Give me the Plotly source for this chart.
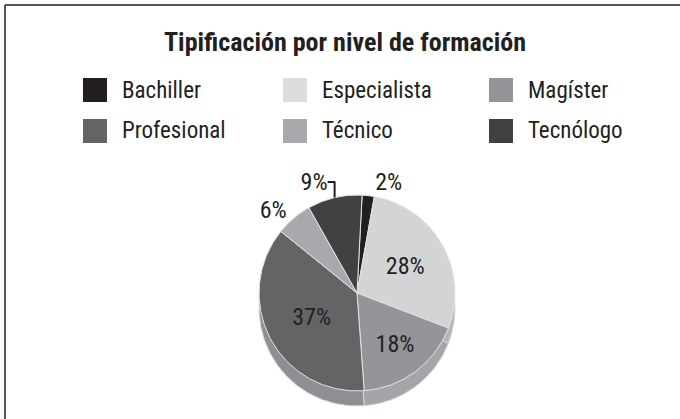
import plotly.graph_objects as go

W, H = 680, 419

title = "Tipificación por nivel de formación"
categories = ["Bachiller", "Especialista", "Magíster", "Profesional", "Técnico", "Tecnólogo"]
percentages = [2, 28, 18, 37, 6, 9]
face_colors = ["#231f20", "#d3d4d6", "#939598", "#636466", "#a7a9ac", "#414042"]
legend_colors = ["#231f20", "#dcddde", "#939598", "#636466", "#a7a9ac", "#414042"]
side_colors = ["#3a3637", "#b4b5b7", "#a4a5a8", "#8e8f92", "#b9babc", "#58575a"]
text_positions = ["outside", "inside", "inside", "inside", "outside", "outside"]

FONT = "Roboto, Open Sans, sans-serif"
TXT = "#231f20"


def cond(s):
    return "<span style='font-stretch:condensed'>" + s + "</span>"


def px_x(p):
    return p / W


def px_y(p):
    return 1 - p / H


# pie geometry (pixels)
cx, cy, r, depth = 357, 293, 98, 15


def dom(cx_, cy_):
    return dict(x=[px_x(cx_ - r), px_x(cx_ + r)], y=[px_y(cy_ + r), px_y(cy_ - r)])


fig = go.Figure()

# side (3D depth) of the pie
fig.add_trace(go.Pie(
    labels=categories, values=percentages, sort=False, direction="clockwise", rotation=3,
    marker=dict(colors=side_colors, line=dict(color="#d8d8d8", width=1)),
    textinfo="none", hoverinfo="skip", showlegend=False,
    domain=dom(cx, cy + depth),
))

# top face
fig.add_trace(go.Pie(
    labels=categories, values=percentages, sort=False, direction="clockwise", rotation=3,
    marker=dict(colors=face_colors, line=dict(color="#e4e4e4", width=1)),
    texttemplate=cond("%{value}%"), textposition=text_positions,
    insidetextfont=dict(family=FONT, size=24, color=TXT),
    outsidetextfont=dict(family=FONT, size=24, color=TXT),
    insidetextorientation="horizontal",
    showlegend=False,
    domain=dom(cx, cy),
))

shapes = [
    dict(type="line", xref="paper", yref="paper", x0=px_x(5), x1=1.01, y0=px_y(5), y1=px_y(5),
         line=dict(color="#555555", width=2)),
    dict(type="line", xref="paper", yref="paper", x0=px_x(5), x1=px_x(5), y0=px_y(5), y1=-0.01,
         line=dict(color="#555555", width=2)),
]
annotations = [
    dict(text=cond("<b>" + title + "</b>"), xref="paper", yref="paper", x=px_x(345), y=px_y(42),
         xanchor="center", yanchor="middle", showarrow=False,
         font=dict(family=FONT, size=26, color=TXT)),
]

col_x = [83, 283, 489]
row_y = [90, 131]
for i, (name, col) in enumerate(zip(categories, legend_colors)):
    x0 = col_x[i % 3]
    yc = row_y[i // 3]
    shapes.append(dict(type="rect", xref="paper", yref="paper",
                       x0=px_x(x0), x1=px_x(x0 + 24), y0=px_y(yc + 12), y1=px_y(yc - 12),
                       fillcolor=col, line=dict(width=0)))
    annotations.append(dict(text=cond(name), xref="paper", yref="paper", x=px_x(x0 + 37), y=px_y(yc),
                            xanchor="left", yanchor="middle", showarrow=False,
                            font=dict(family=FONT, size=23, color=TXT)))

fig.update_layout(
    width=W, height=H, autosize=False,
    margin=dict(l=0, r=0, t=0, b=0),
    paper_bgcolor="white", plot_bgcolor="white",
    shapes=shapes, annotations=annotations,
    font=dict(family=FONT, color=TXT),
)

fig.write_html(
    "out.html",
    config={"displayModeBar": False},
    post_script="document.body.style.margin='0';document.body.style.overflow='hidden';",
)
